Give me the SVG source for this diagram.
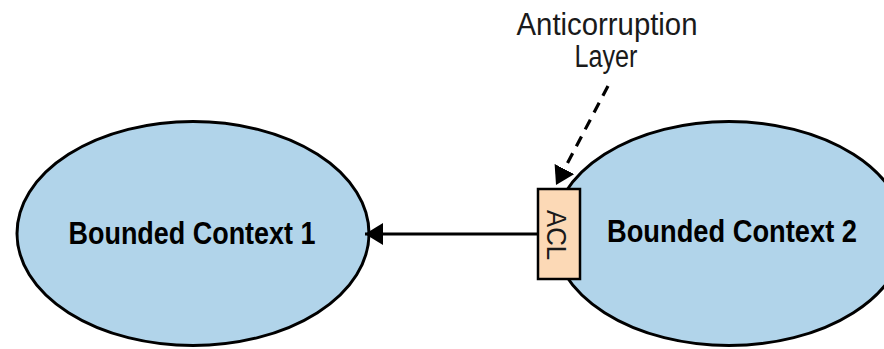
<svg xmlns="http://www.w3.org/2000/svg" width="884" height="349" viewBox="0 0 884 349">
  <style>
    .ctx { fill: #b1d4ea; stroke: #000; stroke-width: 3; }
    .acl { fill: #fcd9b6; stroke: #000; stroke-width: 2.5; }
    .bold { font-family: "Liberation Sans", Arial, sans-serif; font-weight: bold; font-size: 31px; fill: #000; }
    .reg { font-family: "Liberation Sans", Arial, sans-serif; font-size: 31px; fill: #1a1a1a; }
    .edge { stroke: #000; stroke-width: 3.2; fill: none; }
  </style>
  <defs>
    <marker id="head" viewBox="0 0 18 22" refX="18" refY="11" markerWidth="18" markerHeight="22" markerUnits="userSpaceOnUse" orient="auto">
      <path d="M0,0 L18,11 L0,22 Z" fill="#000"/>
    </marker>
  </defs>
  <rect width="884" height="349" fill="#fff"/>

  <g id="bounded-context-1">
    <ellipse class="ctx" cx="193" cy="233.5" rx="176" ry="112"/>
    <text class="bold" x="192" y="244" text-anchor="middle" textLength="247" lengthAdjust="spacingAndGlyphs">Bounded Context 1</text>
  </g>

  <g id="bounded-context-2">
    <ellipse class="ctx" cx="729" cy="233.5" rx="176" ry="112"/>
    <text class="bold" x="732" y="242" text-anchor="middle" textLength="250" lengthAdjust="spacingAndGlyphs">Bounded Context 2</text>
  </g>

  <g id="acl">
    <rect class="acl" x="538" y="189" width="42" height="90"/>
    <text class="reg" transform="translate(547,235) rotate(90)" text-anchor="middle" style="font-size:28px" textLength="50" lengthAdjust="spacingAndGlyphs">ACL</text>
  </g>

  <g id="acl-label">
    <text class="reg" x="607" y="35" text-anchor="middle" textLength="181" lengthAdjust="spacingAndGlyphs">Anticorruption</text>
    <text class="reg" x="606" y="67" text-anchor="middle" textLength="63" lengthAdjust="spacingAndGlyphs">Layer</text>
  </g>

  <g id="connectors">
    <line class="edge" x1="538" y1="234" x2="365" y2="234" marker-end="url(#head)"/>
    <line class="edge" x1="608" y1="86" x2="556" y2="185" stroke-dasharray="11 8" marker-end="url(#head)"/>
  </g>
</svg>
